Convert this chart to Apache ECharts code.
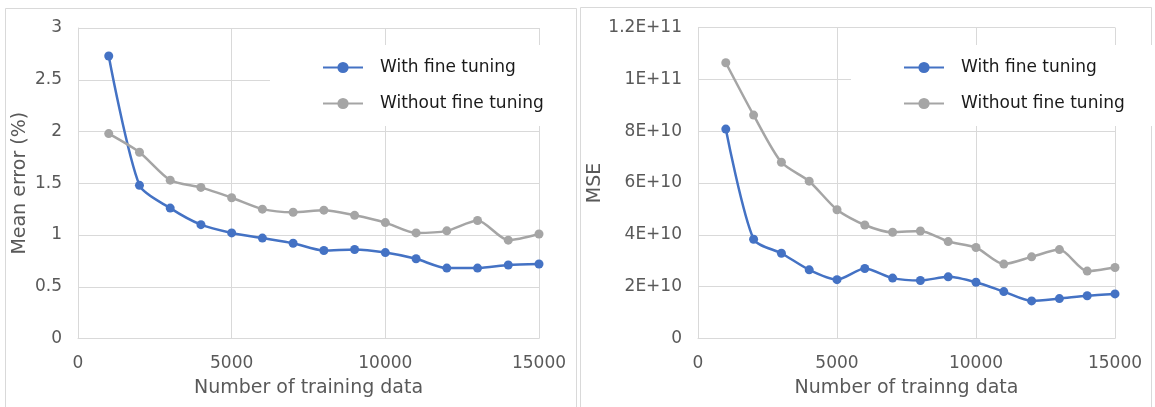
<!DOCTYPE html>
<html><head><meta charset="utf-8">
<script src="https://cdn.jsdelivr.net/npm/echarts@6/dist/echarts.min.js"></script>
<style>html,body{margin:0;padding:0;background:#fff}#c{width:1155px;height:407px}</style>
</head><body><div id="c"></div>
<script>
// ---- data ----
const trainingSizes = [1000,2000,3000,4000,5000,6000,7000,8000,9000,10000,11000,12000,13000,14000,15000];
const errWithFT    = [2.73,1.48,1.26,1.10,1.02,0.97,0.92,0.85,0.86,0.83,0.77,0.68,0.68,0.71,0.72];
const errWithoutFT = [1.98,1.80,1.53,1.46,1.36,1.25,1.22,1.24,1.19,1.12,1.02,1.04,1.14,0.95,1.01];
const mseWithFT    = [8.08e10,3.83e10,3.29e10,2.65e10,2.27e10,2.70e10,2.33e10,2.24e10,2.38e10,2.17e10,1.81e10,1.45e10,1.54e10,1.65e10,1.72e10];
const mseWithoutFT = [10.64e10,8.62e10,6.80e10,6.07e10,4.97e10,4.38e10,4.10e10,4.15e10,3.74e10,3.51e10,2.87e10,3.15e10,3.43e10,2.60e10,2.74e10];
const xTickLabels = ['0','5000','10000','15000'];
const errTickLabels = ['0','0.5','1','1.5','2','2.5','3'];
const mseTickLabels = ['0','2E+10','4E+10','6E+10','8E+10','1E+11','1.2E+11'];
const seriesNames = ['With fine tuning','Without fine tuning'];
const leftTitles = {x:'Number of training data', y:'Mean error (%)'};
const rightTitles = {x:'Number of trainng data', y:'MSE'};

const FONT = 'DejaVu Sans';
const BLUE = '#4472C4', GRAY = '#A5A5A5', GRID = '#D9D9D9', TXT = '#595959';
const pairs = ys => trainingSizes.map((x,i)=>[x, ys[i]]);

function xAxis(idx, name){
  return {type:'value', gridIndex:idx, min:0, max:15000, interval:5000,
    name:name, nameLocation:'middle', nameGap:40,
    nameTextStyle:{fontFamily:FONT, fontSize:19, color:TXT},
    axisLine:{show:true, lineStyle:{color:GRID, width:1}},
    axisTick:{show:false},
    axisLabel:{fontFamily:FONT, fontSize:17, color:TXT, margin:17,
      formatter:v=>xTickLabels[Math.round(v/5000)]},
    splitLine:{show:true, lineStyle:{color:GRID, width:1}}};
}
function yAxis(idx, name, max, interval, labels, gap){
  return {type:'value', gridIndex:idx, min:0, max:max, interval:interval,
    name:name, nameLocation:'middle', nameGap:gap,
    nameTextStyle:{fontFamily:FONT, fontSize:19, color:TXT},
    axisLine:{show:true, lineStyle:{color:GRID, width:1}},
    axisTick:{show:false},
    axisLabel:{fontFamily:FONT, fontSize:17, color:TXT, margin:16,
      formatter:v=>labels[Math.round(v/interval)]},
    splitLine:{show:true, lineStyle:{color:GRID, width:1}}};
}
function line(name, data, color, idx){
  return {type:'line', name:name, data:data, xAxisIndex:idx, yAxisIndex:idx,
    smooth:0.25, symbol:'circle', symbolSize:9, showSymbol:true,
    lineStyle:{color:color, width:2.5}, itemStyle:{color:color},
    emphasis:{disabled:true}, animation:false};
}
function legend(left){
  return {show:true, orient:'vertical', left:left, top:45,
    data:seriesNames, backgroundColor:'#fff',
    padding:[14,30,14,52], itemGap:19, itemWidth:40, itemHeight:14,
    textStyle:{fontFamily:FONT, fontSize:17, color:'#1a1a1a', padding:[0,0,0,12]},
    selectedMode:false};
}

const chart = echarts.init(document.getElementById('c'), null, {renderer:'canvas'});
chart.setOption({
  backgroundColor:'#fff',
  animation:false,
  graphic:[
    {type:'rect', shape:{x:5.5, y:8.5, width:571, height:410}, style:{fill:'none', stroke:GRID, lineWidth:1}, z:-1},
    {type:'rect', shape:{x:580.5, y:7.5, width:571, height:410}, style:{fill:'none', stroke:GRID, lineWidth:1}, z:-1}
  ],
  grid:[
    {left:78, width:461, top:28, height:310.5},
    {left:698, width:417, top:27.5, height:311}
  ],
  xAxis:[xAxis(0, leftTitles.x), xAxis(1, rightTitles.x)],
  yAxis:[yAxis(0, leftTitles.y, 3, 0.5, errTickLabels, 48), yAxis(1, rightTitles.y, 1.2e11, 2e10, mseTickLabels, 93)],
  legend:[legend(270), legend(851)],
  series:[
    line(seriesNames[0], pairs(errWithFT), BLUE, 0),
    line(seriesNames[1], pairs(errWithoutFT), GRAY, 0),
    line(seriesNames[0], pairs(mseWithFT), BLUE, 1),
    line(seriesNames[1], pairs(mseWithoutFT), GRAY, 1)
  ]
});
</script></body></html>
